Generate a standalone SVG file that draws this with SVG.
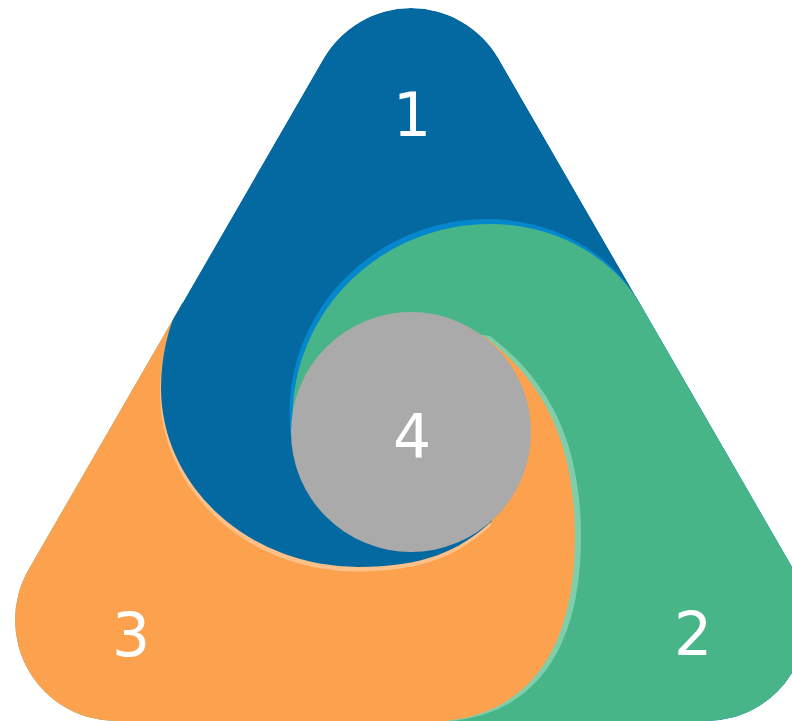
<svg xmlns="http://www.w3.org/2000/svg" width="792" height="721" viewBox="0 0 792 721">
<style>
.lbl{font-family:"DejaVu Sans","Liberation Sans",sans-serif;font-size:60px;fill:#ffffff;text-anchor:middle}
.blue{fill:#0468A1}
.lblue{fill:#0587CE}
.green{fill:#48B588}
.lgreen{fill:#7ECDAB}
.orange{fill:#FCA24F}
.lorange{fill:#FDC089}
.gray{fill:#AAAAAA}
</style>
<defs>
<path id="triShape" d="M323.58,58.6 A101,101 0 0 1 498.52,58.6 L793.47,569.5 A101,101 0 0 1 706,721 L116.1,721 A101,101 0 0 1 28.63,569.5 Z"/>
<clipPath id="tri"><use href="#triShape"/></clipPath>
<path id="gShape" d="M411,432 L296.1,455 A197.5,194 0 0 1 292.5,418 A197.5,194 0 0 1 490,224 A169.8,150 0 0 1 639,302 L900,302 L900,900 L380,900 L380,600 Z"/>
<path id="oShape" d="M411,432 L455,332 L484,336 C539.7,378.4 575,437 575,537 C575,657.3 522.5,722 425,722 L425,760 L-100,760 L-100,300 L174,318 L180,400 L240,480 L330,500 Z"/>
<path id="bShape" d="M181.1,300 A197,200 0 0 0 161,388 A197,179 0 0 0 358,567 C423,567 458.7,551.4 492,521 L470,470 L411,432 L300,447 L245,405 Z"/>
</defs>
<g clip-path="url(#tri)">
<g id="node-1">
<use href="#triShape" class="blue"/>
<text class="lbl" x="412" y="136">1</text>
</g>
<g id="node-2">
<use href="#gShape" class="lblue" transform="translate(-3,-5)"/>
<use href="#gShape" class="green"/>
<text class="lbl" x="693" y="655">2</text>
</g>
<g id="node-3">
<use href="#oShape" class="lgreen" transform="translate(6,0)"/>
<use href="#oShape" class="orange"/>
<text class="lbl" x="131" y="656">3</text>
</g>
<g id="node-1-swirl">
<use href="#bShape" class="lorange" transform="translate(-1,4.5)"/>
<use href="#bShape" class="blue"/>
</g>
<g id="node-4">
<circle class="gray" cx="411" cy="432" r="120"/>
<text class="lbl" x="412" y="457">4</text>
</g>
</g>
</svg>
